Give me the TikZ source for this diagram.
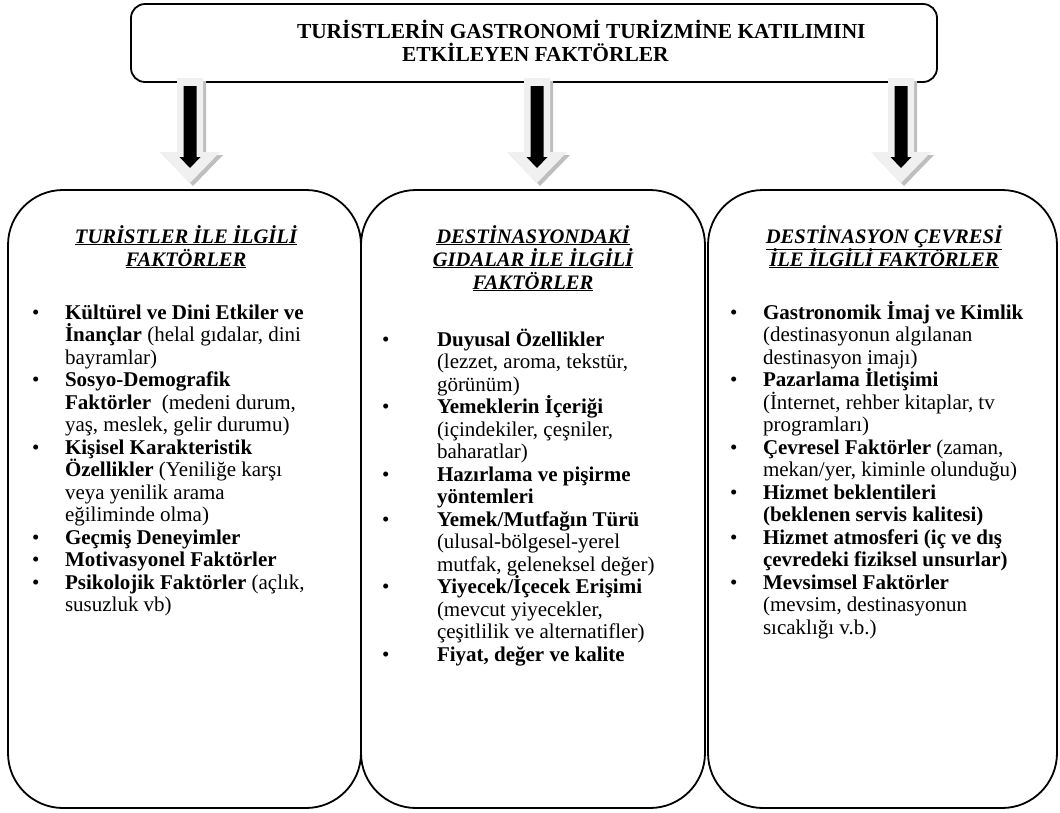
\documentclass[tikz,border=0pt]{standalone}
\usepackage{fontspec}
\usepackage{array}
\setmainfont{Liberation Serif}
\usetikzlibrary{calc}

\definecolor{arrowlight}{HTML}{F0F0F0}
\definecolor{arrowshade}{HTML}{BEBEBE}

% table columns whose cells do not stretch the row: rows keep an even pitch
\newcolumntype{L}{>{\setbox0=\hbox\bgroup}l<{\egroup\ht0=0pt\dp0=0pt\box0}}
\newcolumntype{C}{>{\setbox0=\hbox\bgroup}c<{\egroup\ht0=0pt\dp0=0pt\box0}}

\tikzset{
  frame/.style={draw=black, line width=1.8pt, inner sep=0pt, outer sep=0pt},
  titlebox/.style={frame, rectangle, rounded corners=14pt, minimum width=806pt, minimum height=78pt},
  colbox/.style={frame, rectangle, rounded corners=55pt, minimum height=618pt},
  txt/.style={inner sep=0pt, outer sep=0pt, font=\fontsize{21}{22.5}\selectfont},
  heading/.style={txt, anchor=north, font=\fontsize{20.6}{23}\selectfont\bfseries\itshape},
  itemlist/.style={txt, anchor=north west},
}

% bullet column of the given width
\newcommand\bul[1]{\makebox[#1][l]{\textbullet}}
\newcommand\hd[1]{\underline{#1}}

% block arrow hanging below the title frame
\newcommand\droparrow[1]{%
  \begin{scope}[shift={(#1)}]
    \fill[arrowshade, shift={(3,3)}] (-13,0) -- (13,0) -- (13,74) -- (30,74) -- (0,105) -- (-30,74) -- (-13,74) -- cycle;
    \fill[arrowlight] (-13,0) -- (13,0) -- (13,74) -- (30,74) -- (0,105) -- (-30,74) -- (-13,74) -- cycle;
    \fill[black] (-6.5,8) -- (6.5,8) -- (6.5,79) -- (10.5,79) -- (0,90) -- (-10.5,79) -- (-6.5,79) -- cycle;
  \end{scope}}

\begin{document}
\begin{tikzpicture}[x=1pt, y=-1pt]
\useasboundingbox (0,0) rectangle (1060,812);

% title frame
\node[titlebox] (top) at (534,43) {};
\node[txt, anchor=north west, font=\fontsize{21.4}{23}\selectfont\bfseries] (title) at (297,22.4)
  {\begin{tabular}{@{}L@{}}
   TURİSTLERİN GASTRONOMİ TURİZMİNE KATILIMINI\\
   \hspace*{105pt}ETKİLEYEN FAKTÖRLER
   \end{tabular}};

% arrows from the title frame down to the three groups
\coordinate (aA) at (190,78);
\coordinate (aB) at (537,78);
\coordinate (aC) at (901,78);
\droparrow{aA}
\droparrow{aB}
\droparrow{aC}

% the three groups
\node[colbox, minimum width=353pt] (colA) at (184.5,499) {};
\node[colbox, minimum width=344pt] (colB) at (533,499) {};
\node[colbox, minimum width=349pt] (colC) at (882.5,499) {};

% headings
\node[heading] (hA) at (186,226.9)
  {\begin{tabular}{@{}C@{}}\hd{TURİSTLER İLE İLGİLİ}\\ \hd{FAKTÖRLER}\end{tabular}};
\node[heading] (hB) at (533,226.9)
  {\begin{tabular}{@{}C@{}}\hd{DESTİNASYONDAKİ}\\ \hd{GIDALAR İLE İLGİLİ}\\ \hd{FAKTÖRLER}\end{tabular}};
\node[heading] (hC) at (884,226.9)
  {\begin{tabular}{@{}C@{}}\hd{DESTİNASYON ÇEVRESİ}\\ \hd{İLE İLGİLİ FAKTÖRLER}\end{tabular}};

% item lists
\node[itemlist] (lA) at (32,303.25)
  {\begin{tabular}{@{}L@{}L@{}}
   \bul{33pt} & \textbf{Kültürel ve Dini Etkiler ve}\\
   & \textbf{İnançlar} (helal gıdalar, dini\\
   & bayramlar)\\
   \bul{33pt} & \textbf{Sosyo-Demografik}\\
   & \textbf{Faktörler}\ \ (medeni durum,\\
   & yaş, meslek, gelir durumu)\\
   \bul{33pt} & \textbf{Kişisel Karakteristik}\\
   & \textbf{Özellikler} (Yeniliğe karşı\\
   & veya yenilik arama\\
   & eğiliminde olma)\\
   \bul{33pt} & \textbf{Geçmiş Deneyimler}\\
   \bul{33pt} & \textbf{Motivasyonel Faktörler}\\
   \bul{33pt} & \textbf{Psikolojik Faktörler} (açlık,\\
   & susuzluk vb)
   \end{tabular}};

\node[itemlist] (lB) at (382,330.25)
  {\begin{tabular}{@{}L@{}L@{}}
   \bul{55pt} & \textbf{Duyusal Özellikler}\\
   & (lezzet, aroma, tekstür,\\
   & görünüm)\\
   \bul{55pt} & \textbf{Yemeklerin İçeriği}\\
   & (içindekiler, çeşniler,\\
   & baharatlar)\\
   \bul{55pt} & \textbf{Hazırlama ve pişirme}\\
   & \textbf{yöntemleri}\\
   \bul{55pt} & \textbf{Yemek/Mutfağın Türü}\\
   & (ulusal-bölgesel-yerel\\
   & mutfak, geleneksel değer)\\
   \bul{55pt} & \textbf{Yiyecek/İçecek Erişimi}\\
   & (mevcut yiyecekler,\\
   & çeşitlilik ve alternatifler)\\
   \bul{55pt} & \textbf{Fiyat, değer ve kalite}
   \end{tabular}};

\node[itemlist] (lC) at (730,303.25)
  {\begin{tabular}{@{}L@{}L@{}}
   \bul{33pt} & \textbf{Gastronomik İmaj ve Kimlik}\\
   & (destinasyonun algılanan\\
   & destinasyon imajı)\\
   \bul{33pt} & \textbf{Pazarlama İletişimi}\\
   & (İnternet, rehber kitaplar, tv\\
   & programları)\\
   \bul{33pt} & \textbf{Çevresel Faktörler} (zaman,\\
   & mekan/yer, kiminle olunduğu)\\
   \bul{33pt} & \textbf{Hizmet beklentileri}\\
   & \textbf{(beklenen servis kalitesi)}\\
   \bul{33pt} & \textbf{Hizmet atmosferi (iç ve dış}\\
   & \textbf{çevredeki fiziksel unsurlar)}\\
   \bul{33pt} & \textbf{Mevsimsel Faktörler}\\
   & (mevsim, destinasyonun\\
   & sıcaklığı v.b.)
   \end{tabular}};
\end{tikzpicture}
\end{document}
